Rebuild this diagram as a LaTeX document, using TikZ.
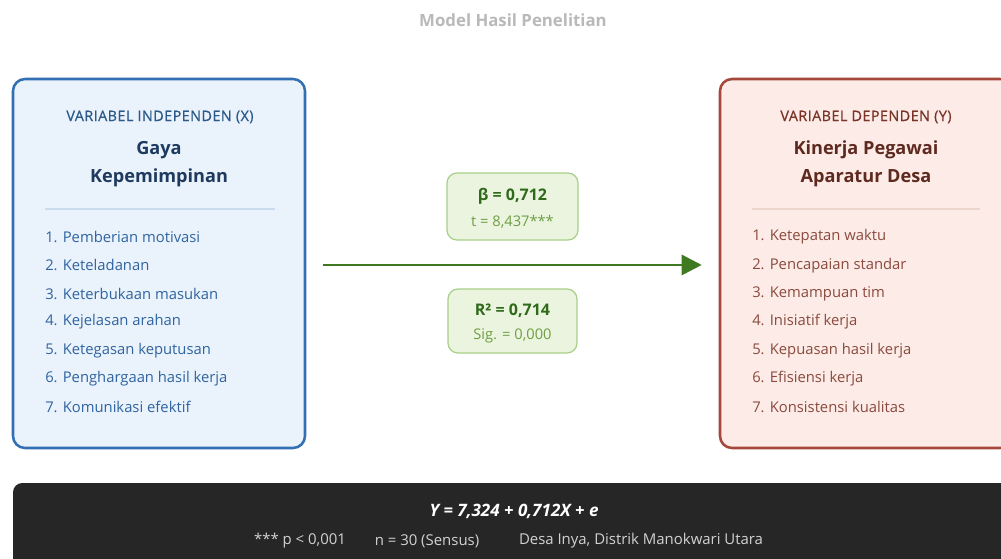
\documentclass[tikz,border=0pt]{standalone}
\usepackage{fontspec}
\setmainfont{Open Sans}
\usetikzlibrary{arrows.meta}

\definecolor{xborder}{HTML}{3270B3}
\definecolor{xfill}{HTML}{EAF2FB}
\definecolor{xhead}{HTML}{2B5A8A}
\definecolor{xtitle}{HTML}{1E3A5F}
\definecolor{xitem}{HTML}{2F64A0}
\definecolor{xrule}{HTML}{C9DBEE}
\definecolor{yborder}{HTML}{A5473A}
\definecolor{yfill}{HTML}{FCEBE6}
\definecolor{yhead}{HTML}{7A3328}
\definecolor{ytitle}{HTML}{5E2A20}
\definecolor{yitem}{HTML}{8A4A3E}
\definecolor{yrule}{HTML}{EDD5CE}
\definecolor{arrowgreen}{HTML}{3F7A22}
\definecolor{statfill}{HTML}{EAF4DE}
\definecolor{statborder}{HTML}{A8CF88}
\definecolor{statmain}{HTML}{2F6A1B}
\definecolor{statsub}{HTML}{6F9E45}
\definecolor{footbg}{HTML}{262626}
\definecolor{footsub}{HTML}{D2D2D2}
\definecolor{captiongray}{HTML}{B9B9B9}

\begin{document}
\begin{tikzpicture}[x=0.75pt,y=-0.75pt,
  varbox/.style={rectangle,rounded corners=9pt,line width=1.9pt,
    minimum width=219pt,minimum height=276.75pt,inner sep=0pt},
  statbox/.style={rectangle,rounded corners=7.5pt,line width=0.9pt,
    draw=statborder,fill=statfill,inner sep=0pt},
  headtxt/.style={font=\fontsize{10.8}{13}\selectfont\addfontfeature{LetterSpace=3,FakeBold=0.6}},
  titletxt/.style={font=\fontsize{13.6}{16}\selectfont\bfseries},
  itemtxt/.style={anchor=west,inner sep=0pt,font=\fontsize{11.1}{13}\selectfont},
  mainstat/.style={font=\fontsize{12}{14}\selectfont\bfseries,text=statmain},
  substat/.style={font=\fontsize{11}{13}\selectfont,text=statsub},
  footnote/.style={font=\fontsize{11.2}{13}\selectfont,text=footsub}]

\useasboundingbox (0,0) rectangle (1001,558);
\clip (0,0) rectangle (1001,558);
\fill[white] (0,0) rectangle (1001,558);

% caption
\node[font=\fontsize{12.6}{15}\selectfont\bfseries,text=captiongray] (cap) at (513,20) {Model Hasil Penelitian};

% independent variable
\node[varbox,draw=xborder,fill=xfill] (indep) at (159,263.5) {};
\node[headtxt,text=xhead] (xh) at (160,117) {VARIABEL INDEPENDEN (X)};
\node[titletxt,text=xtitle] (xt1) at (159,150) {Gaya};
\node[titletxt,text=xtitle] (xt2) at (159,178) {Kepemimpinan};
\draw[xrule,line width=0.8pt] (45,209) coordinate (xr1) -- (275,209) coordinate (xr2);
\foreach \t [count=\i] in {Pemberian motivasi,Keteladanan,Keterbukaan masukan,Kejelasan arahan,Ketegasan keputusan,Penghargaan hasil kerja,Komunikasi efektif}
  \node[itemtxt,text=xitem] (xi\i) at (45,{237+28.33*(\i-1)}) {\i. \t};

% dependent variable
\node[varbox,draw=yborder,fill=yfill] (dep) at (866,263.5) {};
\node[headtxt,text=yhead] (yh) at (866,117) {VARIABEL DEPENDEN (Y)};
\node[titletxt,text=ytitle] (yt1) at (866,150) {Kinerja Pegawai};
\node[titletxt,text=ytitle] (yt2) at (866,178) {Aparatur Desa};
\draw[yrule,line width=0.8pt] (752,209) coordinate (yr1) -- (980,209) coordinate (yr2);
\foreach \t [count=\i] in {Ketepatan waktu,Pencapaian standar,Kemampuan tim,Inisiatif kerja,Kepuasan hasil kerja,Efisiensi kerja,Konsistensi kualitas}
  \node[itemtxt,text=yitem] (yi\i) at (752,{237+28.33*(\i-1)}) {\i. \t};

% regression path
\draw[arrowgreen,line width=2.2pt,-{Triangle[length=15pt,width=15pt]},
  shorten <=12.75pt,shorten >=12.75pt]
  ([yshift=-1.1pt]indep.east) -- ([yshift=-1.1pt]dep.west);

% coefficient boxes
\node[statbox,minimum width=98.25pt,minimum height=50.25pt] (beta) at (512.5,206.5) {};
\node[mainstat] (b1) at (512.5,196) {β = 0,712};
\node[substat] (b2) at (512.5,222) {t = 8,437***};
\node[statbox,minimum width=96.75pt,minimum height=48pt] (rsq) at (512.5,321) {};
\node[mainstat] (r1) at (512.5,311) {R² = 0,714};
\node[substat] (r2) at (512.5,336) {Sig. = 0,000};

% equation panel
\fill[footbg,rounded corners=7pt] (13,483) rectangle (1011,580);
\node[font=\fontsize{12.8}{15}\selectfont\bfseries\itshape,text=white] (eq) at (514,511) {Y = 7,324 + 0,712X + e};
\node[footnote] (f1) at (300,541) {*** p < 0,001};
\node[footnote] (f2) at (427,541) {n = 30 (Sensus)};
\node[footnote] (f3) at (641,541) {Desa Inya, Distrik Manokwari Utara};

\end{tikzpicture}
\end{document}
